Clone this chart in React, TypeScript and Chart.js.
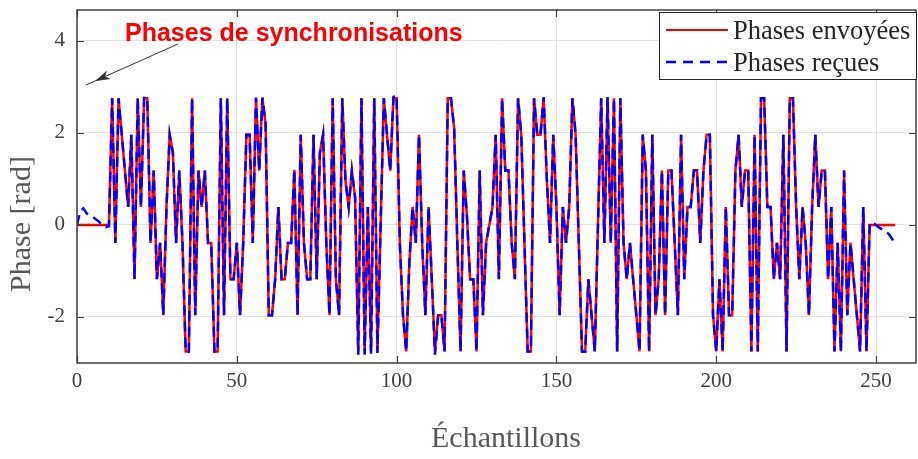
import React, { useEffect, useRef } from 'react';
import { Chart, registerables } from 'chart.js';

Chart.register(...registerables);

// Sent phases (rad), one value per sample, x = 0..256
const sentPhases: number[] = [
  0, 0, 0, 0, 0, 0, 0, 0, 0, 0, 0,
  2.75, -0.39, 2.75, 1.96, 1.18, 0.39, 1.96, -1.18, 2.75, 0.39,
  2.75, 2.75, -0.39, 1.18, -1.18, -0.39, -1.96, 0.39, 1.96, 1.57,
  -0.39, 1.18, -0.39, -2.75, -2.75, 2.75, -1.96, 1.18, 0.39, 1.18,
  -0.39, -0.39, -2.75, -2.75, 2.75, -1.96, 2.75, -1.18, -1.18, -0.39,
  -1.96, -0.39, 1.96, 1.96, -0.39, 2.75, 1.18, 2.75, 2.2, -1.96,
  -1.96, -1.18, 0.39, -1.18, -1.18, -0.39, -0.39, 1.2, -1.96, 1.96,
  -0.39, -1.18, -1.18, 1.96, -1.18, 1.57, 1.96, -0.39, -1.96, 2.75,
  -1.18, -1.96, 2.75, 0.95, 0.39, 1.18, 0.6, -2.75, 2.75, -2.75,
  0.39, -2.75, 2.75, -2.75, 0.0, 2.75, 1.96, 1.18, 2.75, 2.75,
  -0.39, -1.96, -2.75, -0.8, 0.39, -0.39, 1.96, -0.39, -1.96, 0.39,
  -1.18, -2.75, -1.96, -1.96, -2.75, 2.75, 2.75, 2.1, -0.39, -2.75,
  1.18, 0.2, -1.18, -1.18, -2.75, 1.18, -1.96, -0.39, 0.0, 0.39,
  1.96, -1.18, 2.75, 1.18, 1.18, -0.39, -1.18, 2.75, 1.96, -0.39,
  -2.75, -2.75, 2.75, 1.96, 1.96, 2.75, 1.0, -0.39, 1.96, 0.39,
  -1.96, 0.39, -0.39, 0.39, 2.75, 1.96, -0.39, -2.75, -2.75, -1.18,
  -1.96, -2.75, 0.0, 2.75, -0.39, 2.75, -0.39, 2.75, -2.75, 2.75,
  -0.39, -1.18, -0.39, -1.18, -1.96, -2.75, 1.96, 1.18, -2.75, 1.96,
  -1.96, -1.18, 1.18, -1.96, 1.18, 1.18, -0.39, -1.96, 1.96, -1.18,
  0.39, 0.39, 1.18, 1.18, -0.39, 1.18, 1.96, 1.96, -1.96, -2.75,
  -1.18, -2.75, 0.39, -1.96, -1.96, 1.18, 1.96, 0.39, 1.18, 1.18,
  -2.75, 1.96, -2.75, 2.75, 2.75, 0.39, 0.39, -1.18, -0.39, -1.18,
  1.96, -2.75, 2.75, 2.75, 0.39, -1.18, 0.39, -0.39, -1.96, 0.39,
  1.96, 0.39, 1.18, 1.18, -1.18, 0.39, -2.75, -0.39, -2.75, 1.18,
  -1.96, -0.39, -1.18, -1.96, -2.75, 0.39, -2.75,
  0, 0, 0, 0, 0, 0, 0, 0, 0,
];

// Received phases (rad)
const receivedPhases: number[] = [
  0, 0.3, 0.36, 0.25, 0.2, 0.17, 0.12, 0.06, 0.0, -0.05, -0.03,
  2.75, -0.39, 2.75, 1.96, 1.18, 0.39, 1.96, -1.18, 2.75, 0.39,
  2.76, 2.77, -0.39, 1.18, -1.18, -0.39, -1.96, 0.39, 1.96, 1.57,
  -0.39, 1.18, -0.39, -2.75, -2.75, 2.75, -1.96, 1.18, 0.39, 1.18,
  -0.39, -0.39, -2.75, -2.75, 2.75, -1.96, 2.75, -1.18, -1.18, -0.39,
  -1.96, -0.39, 1.96, 1.96, -0.39, 2.77, 1.18, 2.77, 2.2, -1.96,
  -1.96, -1.18, 0.39, -1.18, -1.18, -0.39, -0.39, 1.2, -1.96, 1.96,
  -0.39, -1.18, -1.18, 1.96, -1.18, 1.57, 1.96, -0.39, -1.96, 2.75,
  -1.18, -1.96, 2.75, 0.95, 0.39, 1.18, 0.6, -2.82, 2.75, -2.82,
  0.39, -2.8, 2.75, -2.78, 0.0, 2.75, 1.96, 1.18, 2.78, 2.82,
  -0.39, -1.96, -2.75, -0.8, 0.39, -0.39, 1.96, -0.39, -1.96, 0.39,
  -1.18, -2.82, -1.96, -1.96, -2.75, 2.75, 2.75, 2.1, -0.39, -2.75,
  1.18, 0.2, -1.18, -1.18, -2.75, 1.18, -1.96, -0.39, 0.0, 0.39,
  1.96, -1.18, 2.75, 1.18, 1.18, -0.39, -1.18, 2.75, 1.96, -0.39,
  -2.75, -2.75, 2.75, 1.96, 1.96, 2.78, 1.0, -0.39, 1.96, 0.39,
  -1.96, 0.39, -0.39, 0.39, 2.75, 1.96, -0.39, -2.75, -2.75, -1.18,
  -1.96, -2.75, 0.0, 2.75, -0.39, 2.78, -0.39, 2.75, -2.75, 2.75,
  -0.39, -1.18, -0.39, -1.18, -1.96, -2.75, 1.96, 1.18, -2.75, 1.96,
  -1.96, -1.18, 1.18, -1.96, 1.18, 1.18, -0.39, -1.96, 1.96, -1.18,
  0.39, 0.39, 1.18, 1.18, -0.39, 1.18, 1.96, 1.96, -1.96, -2.75,
  -1.18, -2.75, 0.39, -1.96, -1.96, 1.18, 1.96, 0.39, 1.18, 1.18,
  -2.75, 1.96, -2.75, 2.75, 2.75, 0.39, 0.39, -1.18, -0.39, -1.18,
  1.96, -2.75, 2.75, 2.75, 0.39, -1.18, 0.39, -0.39, -1.96, 0.39,
  1.96, 0.39, 1.18, 1.18, -1.18, 0.39, -2.75, -0.39, -2.75, 1.18,
  -1.96, -0.39, -1.18, -1.96, -2.75, 0.39, -2.75,
  0.05, 0.04, 0.0, -0.06, -0.1, -0.14, -0.2, -0.3, -0.45,
];

const xTicks = [0, 50, 100, 150, 200, 250];
const yTicks = [-2, 0, 2, 4];
const seriesLabels = ['Phases envoyées', 'Phases reçues'];
const annotationText = 'Phases de synchronisations';
const xTitle = 'Échantillons';
const yTitle = 'Phase [rad]';

const SERIF = '"Liberation Serif", "Times New Roman", serif';
const SANS = '"Liberation Sans", Arial, sans-serif';

const overlayPlugin = {
  id: 'overlay',
  afterDraw(chart: any) {
    const { ctx, chartArea: a, scales } = chart;
    ctx.save();
    // inward tick marks
    ctx.strokeStyle = '#404040';
    ctx.lineWidth = 1.2;
    ctx.beginPath();
    xTicks.forEach((v) => {
      const px = Math.round(scales.x.getPixelForValue(v)) + 0.5;
      ctx.moveTo(px, a.bottom);
      ctx.lineTo(px, a.bottom - 7);
      ctx.moveTo(px, a.top);
      ctx.lineTo(px, a.top + 7);
    });
    yTicks.forEach((v) => {
      const py = Math.round(scales.y.getPixelForValue(v)) + 0.5;
      ctx.moveTo(a.left, py);
      ctx.lineTo(a.left + 7, py);
      ctx.moveTo(a.right, py);
      ctx.lineTo(a.right - 7, py);
    });
    ctx.stroke();
    // frame
    ctx.lineWidth = 1.5;
    ctx.strokeStyle = '#404040';
    ctx.strokeRect(a.left, a.top, a.right - a.left, a.bottom - a.top);

    // axis titles
    ctx.fillStyle = '#595959';
    ctx.font = `30px ${SERIF}`;
    ctx.textAlign = 'center';
    ctx.textBaseline = 'middle';
    ctx.fillText(xTitle, 506, 439);
    ctx.save();
    ctx.translate(22, 224);
    ctx.rotate(-Math.PI / 2);
    ctx.fillText(yTitle, 0, 0);
    ctx.restore();

    // annotation
    ctx.fillStyle = '#ff0000';
    ctx.font = `bold 25px ${SANS}`;
    ctx.textAlign = 'left';
    ctx.textBaseline = 'alphabetic';
    ctx.fillText(annotationText, 125, 41);
    // arrow
    const x1 = 178, y1 = 44, x2 = 95, y2 = 81;
    const ang = Math.atan2(y2 - y1, x2 - x1);
    ctx.strokeStyle = '#333333';
    ctx.fillStyle = '#333333';
    ctx.lineWidth = 1;
    ctx.beginPath();
    ctx.moveTo(x1, y1);
    ctx.lineTo(x2 + 10 * Math.cos(ang), y2 + 10 * Math.sin(ang));
    ctx.stroke();
    ctx.beginPath();
    ctx.moveTo(x2, y2);
    ctx.lineTo(x2 - 16 * Math.cos(ang - 0.3), y2 - 16 * Math.sin(ang - 0.3));
    ctx.lineTo(x2 - 11 * Math.cos(ang), y2 - 11 * Math.sin(ang));
    ctx.lineTo(x2 - 16 * Math.cos(ang + 0.3), y2 - 16 * Math.sin(ang + 0.3));
    ctx.closePath();
    ctx.fill();

    // legend
    const lx = 659, ly = 12, lw = 258, lh = 68;
    ctx.fillStyle = '#ffffff';
    ctx.fillRect(lx, ly, lw, lh);
    ctx.strokeStyle = '#262626';
    ctx.lineWidth = 1;
    ctx.strokeRect(lx + 0.5, ly + 0.5, lw - 1, lh - 1);
    ctx.lineWidth = 2;
    ctx.strokeStyle = '#ff0000';
    ctx.beginPath();
    ctx.moveTo(666, 30);
    ctx.lineTo(728, 30);
    ctx.stroke();
    ctx.strokeStyle = '#0000ff';
    ctx.lineWidth = 2.5;
    ctx.setLineDash([10, 7]);
    ctx.beginPath();
    ctx.moveTo(666, 62);
    ctx.lineTo(728, 62);
    ctx.stroke();
    ctx.setLineDash([]);
    ctx.fillStyle = '#262626';
    ctx.font = `26.5px ${SERIF}`;
    ctx.fillText(seriesLabels[0], 733, 39);
    ctx.fillText(seriesLabels[1], 733, 71);
    ctx.restore();
  },
};

export default function App() {
  const ref = useRef<HTMLCanvasElement | null>(null);
  useEffect(() => {
    document.body.style.margin = '0';
    const canvas = ref.current;
    if (!canvas) return;
    const chart = new Chart(canvas, {
      type: 'line',
      data: {
        datasets: [
          {
            label: seriesLabels[0],
            data: sentPhases.map((y, i) => ({ x: i, y })),
            borderColor: '#ff0000',
            borderWidth: 2.5,
            pointRadius: 0,
            tension: 0,
            order: 2,
          },
          {
            label: seriesLabels[1],
            data: receivedPhases.map((y, i) => ({ x: i, y })),
            borderColor: '#0000ff',
            borderWidth: 2.5,
            borderDash: [10, 6],
            pointRadius: 0,
            tension: 0,
            order: 1,
          },
        ],
      },
      options: {
        animation: false,
        responsive: false,
        maintainAspectRatio: false,
        layout: { padding: { top: 10, right: 2, left: 0, bottom: 0 } },
        plugins: {
          legend: { display: false },
          tooltip: { enabled: false },
        },
        scales: {
          x: {
            type: 'linear',
            min: 0,
            max: 262.5,
            afterBuildTicks: (s: any) => {
              s.ticks = xTicks.map((v) => ({ value: v }));
            },
            afterFit: (s: any) => {
              s.height = 96;
              s.paddingLeft = 0;
              s.paddingRight = 0;
            },
            grid: { color: '#e3e3e3', lineWidth: 1, drawTicks: false },
            border: { display: false },
            ticks: {
              padding: 6,
              color: '#404040',
              font: { family: SERIF, size: 21 },
              maxRotation: 0,
            },
            title: { display: false },
          },
          y: {
            type: 'linear',
            min: -3,
            max: 4.67,
            afterBuildTicks: (s: any) => {
              s.ticks = yTicks.map((v) => ({ value: v }));
            },
            afterFit: (s: any) => {
              s.width = 77;
              s.paddingTop = 0;
              s.paddingBottom = 0;
            },
            grid: { color: '#e3e3e3', lineWidth: 1, drawTicks: false },
            border: { display: false },
            ticks: {
              padding: 12,
              color: '#404040',
              font: { family: SERIF, size: 21 },
            },
            title: { display: false },
          },
        },
      },
      plugins: [overlayPlugin],
    });
    return () => chart.destroy();
  }, []);
  return (
    <div style={{ width: 918, height: 459, position: 'relative' }}>
      <canvas ref={ref} width={918} height={459} style={{ width: 918, height: 459, display: 'block' }} />
    </div>
  );
}
